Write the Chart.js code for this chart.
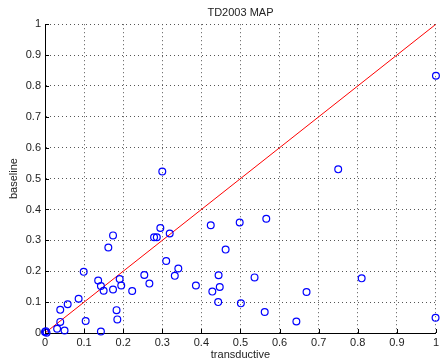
<!DOCTYPE html>
<html>
<head>
<meta charset="utf-8">
<script src="https://cdn.jsdelivr.net/npm/chart.js@4"></script>
<style>
  body { margin: 0; background: #fff; }
  #wrap { width: 442px; height: 362px; }
</style>
</head>
<body>
<div id="wrap"><canvas id="chart" width="442" height="362"></canvas></div>
<script>
// scatter values
const transductive = [0.000, 0.002, 0.004, 0.031, 0.050, 0.039, 0.039, 0.058, 0.086, 0.099,
  0.104, 0.136, 0.143, 0.150, 0.143, 0.162, 0.174, 0.174, 0.183, 0.185,
  0.191, 0.195, 0.223, 0.254, 0.267, 0.279, 0.286, 0.295, 0.300, 0.310,
  0.319, 0.332, 0.341, 0.386, 0.424, 0.428, 0.444, 0.447, 0.443, 0.462,
  0.498, 0.566, 0.536, 0.501, 0.562, 0.643, 0.669, 0.810, 0.750, 0.999, 1.000];
const baseline = [0.003, 0.006, 0.001, 0.014, 0.008, 0.036, 0.075, 0.093, 0.111, 0.198,
  0.039, 0.170, 0.152, 0.137, 0.005, 0.277, 0.316, 0.141, 0.074, 0.044,
  0.175, 0.154, 0.136, 0.188, 0.160, 0.310, 0.310, 0.340, 0.523, 0.233,
  0.322, 0.185, 0.209, 0.154, 0.349, 0.134, 0.187, 0.149, 0.100, 0.270,
  0.358, 0.370, 0.180, 0.096, 0.068, 0.037, 0.133, 0.177, 0.530, 0.049, 0.833];

// y = x reference line
const diagX = [0, 1];
const diagY = [0, 1];

const tickLabels = ['0', '0.1', '0.2', '0.3', '0.4', '0.5', '0.6', '0.7', '0.8', '0.9', '1'];

const font = { family: "'Liberation Sans', Helvetica, Arial, sans-serif", size: 11, weight: 'normal' };

// matlab style tick marks pointing into the plot
const inwardTicks = {
    id: 'inwardTicks',
    afterDraw(chart) {
        const { ctx, chartArea, scales: { x, y } } = chart;
        ctx.save();
        ctx.strokeStyle = '#000';
        ctx.lineWidth = 1;
        ctx.beginPath();
        x.ticks.forEach(t => {
            const px = Math.round(x.getPixelForValue(t.value)) + 0.5;
            ctx.moveTo(px, chartArea.bottom);
            ctx.lineTo(px, chartArea.bottom - 4);
        });
        y.ticks.forEach(t => {
            const py = Math.round(y.getPixelForValue(t.value)) + 0.5;
            ctx.moveTo(chartArea.left, py);
            ctx.lineTo(chartArea.left + 4, py);
        });
        ctx.stroke();
        ctx.restore();
    }
};

new Chart(document.getElementById('chart'), {
    type: 'scatter',
    data: {
        datasets: [{
            label: 'runs',
            data: transductive.map((v, i) => ({ x: v, y: baseline[i] })),
            pointStyle: 'circle',
            pointRadius: 3.4,
            pointBorderWidth: 1.2,
            borderColor: '#0000ff',
            backgroundColor: 'rgba(0,0,0,0)',
            clip: false
        }, {
            label: 'y = x',
            data: diagX.map((v, i) => ({ x: v, y: diagY[i] })),
            showLine: true,
            pointRadius: 0,
            borderColor: '#ff0000',
            borderWidth: 1
        }]
    },
    options: {
        responsive: false,
        animation: false,
        layout: { padding: { left: 0, right: 5, top: 0, bottom: 0 } },
        plugins: {
            legend: { display: false },
            tooltip: { enabled: false },
            title: {
                display: true,
                text: 'TD2003 MAP',
                fullSize: false,
                color: '#222',
                font: font,
                padding: { top: 6, bottom: 5 }
            }
        },
        scales: {
            x: {
                type: 'linear',
                min: 0,
                max: 1,
                afterFit: s => { s.height = 29; },
                ticks: {
                    stepSize: 0.1,
                    color: '#222',
                    font: font,
                    padding: 3,
                    maxRotation: 0,
                    callback: (v, i) => tickLabels[i]
                },
                grid: { color: '#555', drawTicks: false, lineWidth: 1 },
                border: { color: '#000', width: 1, dash: [1, 3] },
                title: { display: true, text: 'transductive', color: '#222', font: font, padding: { top: 0, bottom: 0 } }
            },
            y: {
                type: 'linear',
                min: 0,
                max: 1,
                afterFit: s => { s.width = 45; },
                ticks: {
                    stepSize: 0.1,
                    color: '#222',
                    font: font,
                    padding: 4,
                    callback: (v, i) => tickLabels[i]
                },
                grid: { color: '#555', drawTicks: false, lineWidth: 1 },
                border: { color: '#000', width: 1, dash: [1, 3] },
                title: { display: true, text: 'baseline', color: '#222', font: font, padding: { top: 7, bottom: 0 } }
            }
        }
    },
    plugins: [inwardTicks]
});
</script>
</body>
</html>
